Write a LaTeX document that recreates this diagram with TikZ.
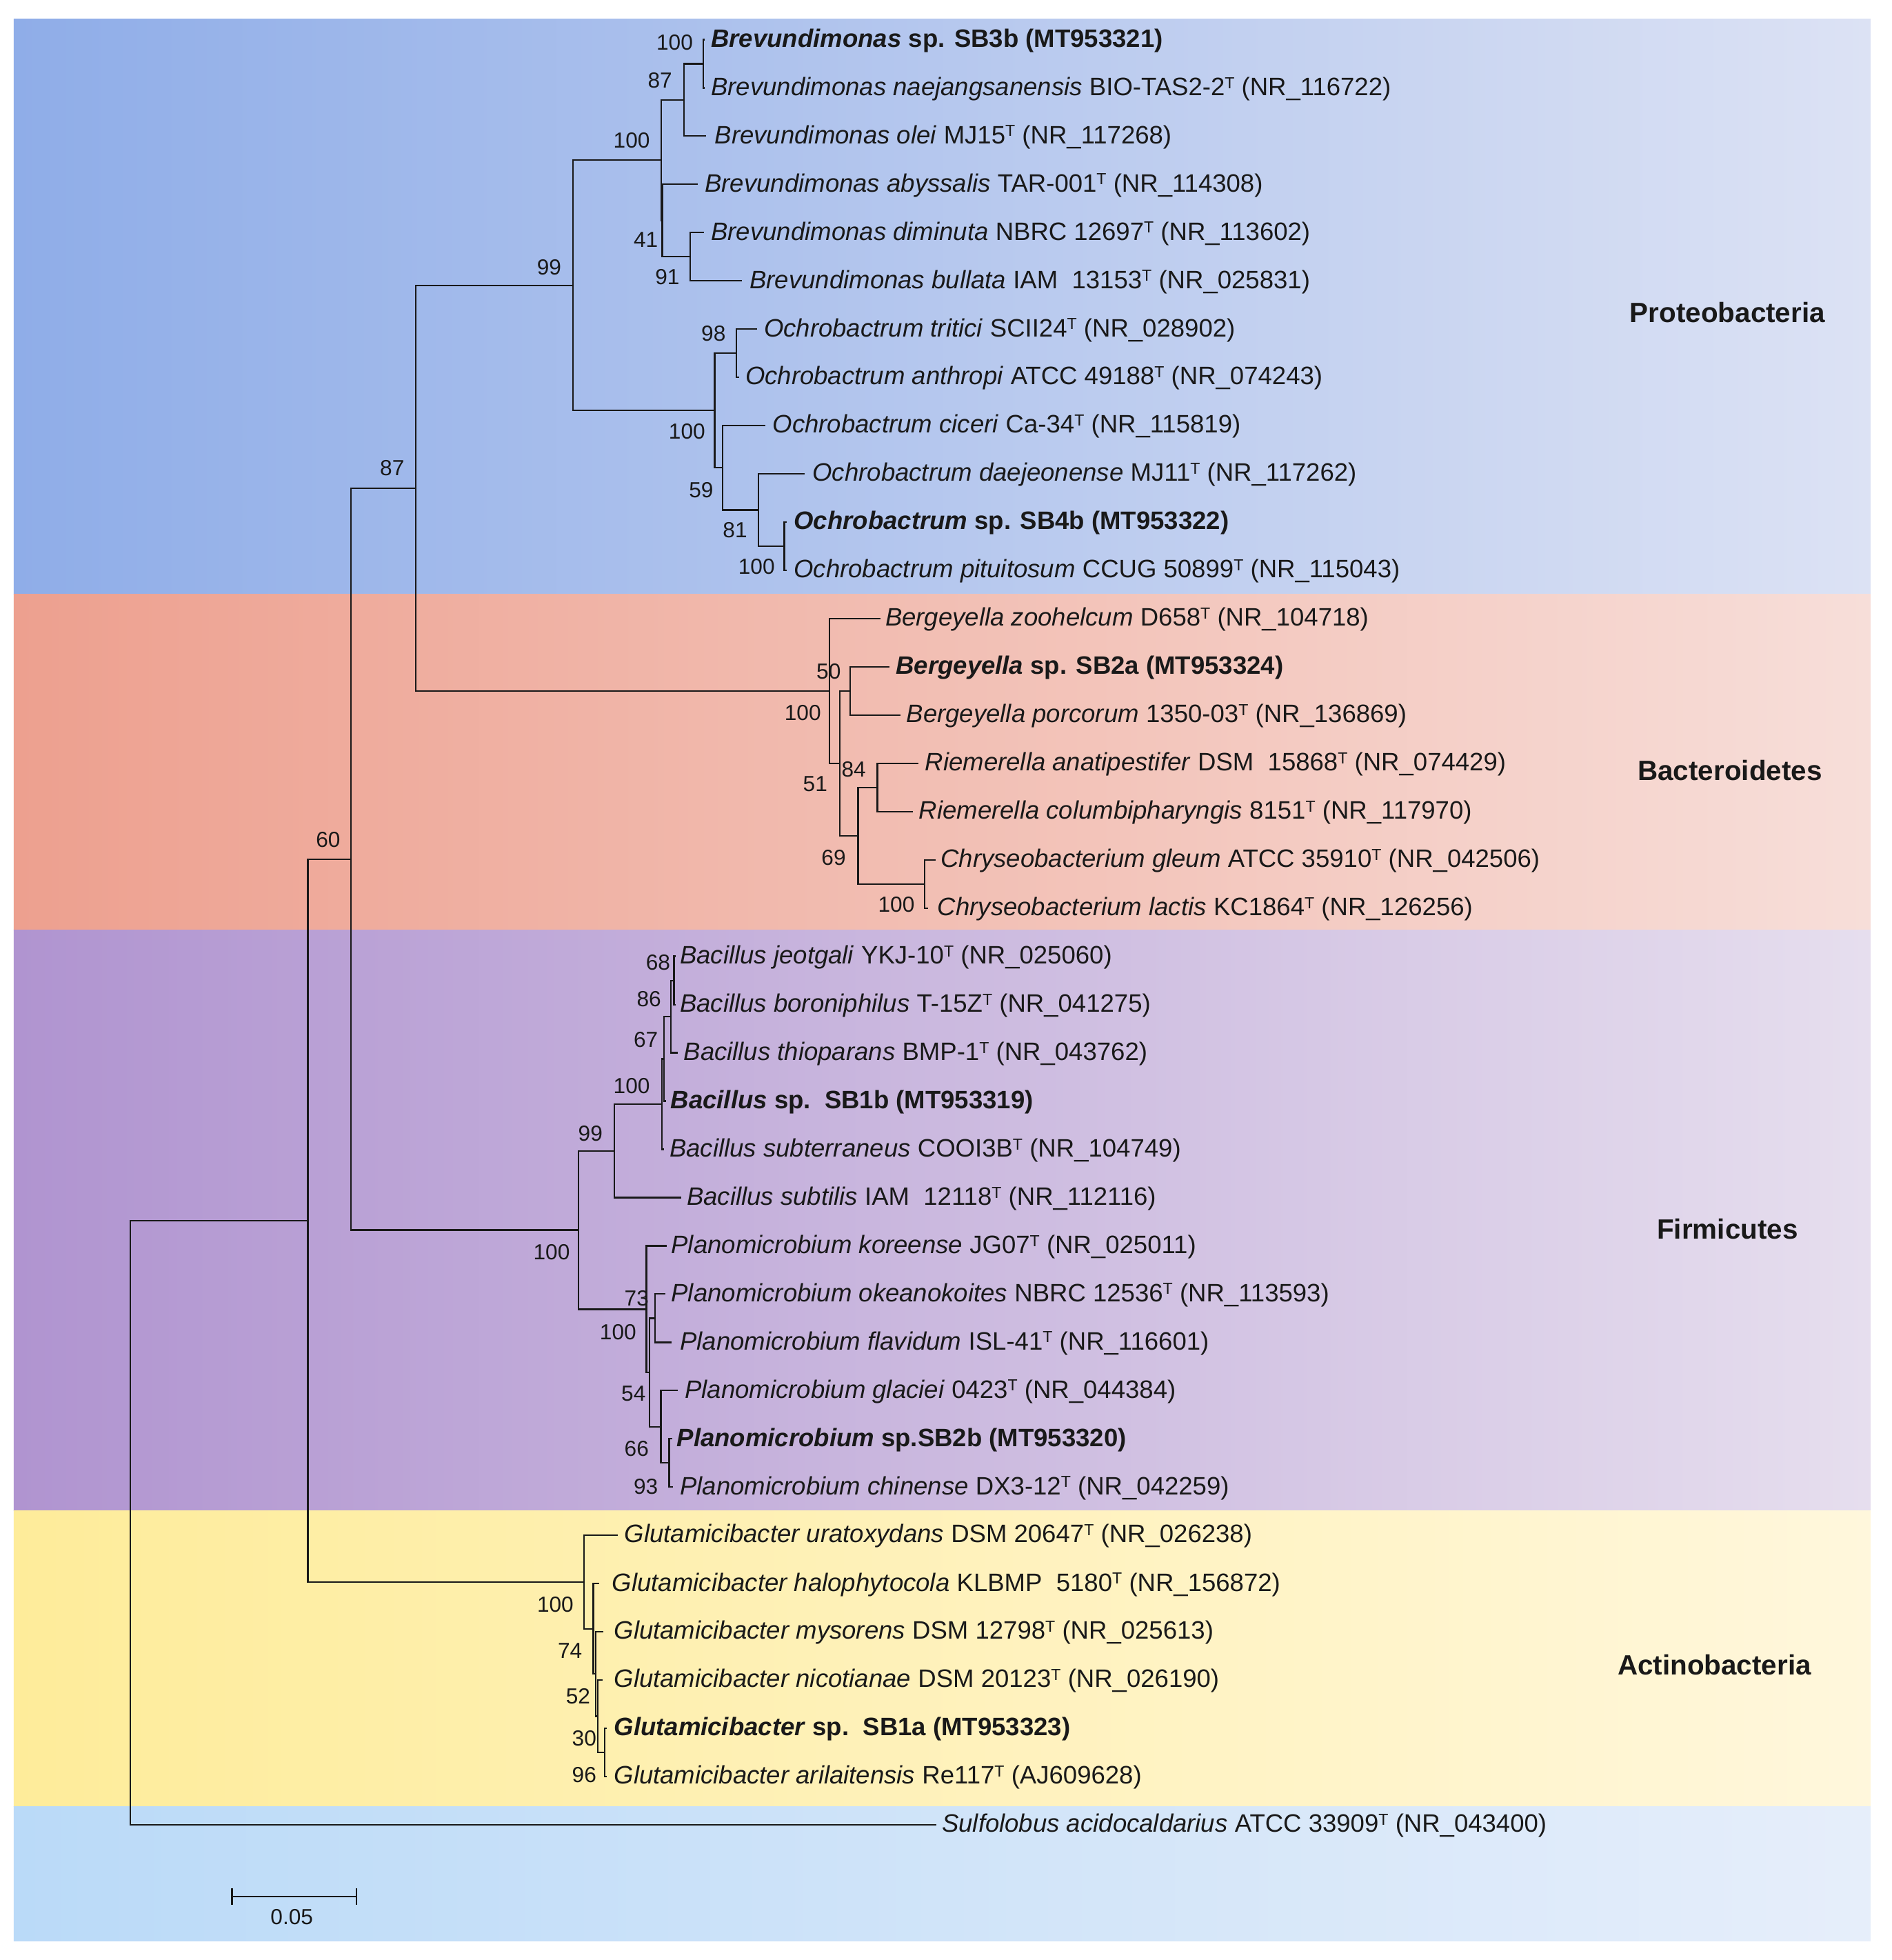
\documentclass[tikz,border=0pt]{standalone}
\usepackage{fontspec}
\setmainfont{Liberation Sans}
\newcommand{\ts}{\raisebox{0.28em}{\fontsize{6.6}{7}\selectfont T}}
\definecolor{proL}{RGB}{143,173,232}\definecolor{proR}{RGB}{220,226,244}
\definecolor{bacL}{RGB}{237,160,143}\definecolor{bacR}{RGB}{247,222,217}
\definecolor{firL}{RGB}{176,148,208}\definecolor{firR}{RGB}{230,222,238}
\definecolor{actL}{RGB}{254,236,154}\definecolor{actR}{RGB}{255,247,220}
\definecolor{outL}{RGB}{186,218,248}\definecolor{outR}{RGB}{230,238,250}
\definecolor{ink}{RGB}{25,25,25}
\begin{document}
\begin{tikzpicture}[x=0.01805cm,y=-0.01805cm,
  br/.style={line width=0.65pt,line cap=rect,draw=ink},
  tx/.style={anchor=base west,inner sep=0pt,text=ink,font=\fontsize{10.4}{12}\selectfont},
  bs/.style={inner sep=0pt,text=ink,font=\fontsize{9}{10}\selectfont},
  ph/.style={inner sep=0pt,text=ink,font=\fontsize{11.5}{13}\selectfont\bfseries}]
\useasboundingbox (0,0) rectangle (1520.2,1574.5);
\fill[white] (0,0) rectangle (1520.2,1574.5);
% background panels
\shade[left color=proL,right color=proR] (11,15) rectangle (1503,477.5);
\shade[left color=bacL,right color=bacR] (11,477.5) rectangle (1503,747.3);
\shade[left color=firL,right color=firR] (11,747.3) rectangle (1503,1213.7);
\shade[left color=actL,right color=actR] (11,1213.7) rectangle (1503,1451);
\shade[left color=outL,right color=outR] (11,1451) rectangle (1503,1559);
% phylum labels
\node[ph] (pro) at (1388,251) {Proteobacteria};
\node[ph] (bac) at (1390,619) {Bacteroidetes};
\node[ph] (fir) at (1388,987) {Firmicutes};
\node[ph] (act) at (1377.5,1337.5) {Actinobacteria};
% tip coordinates
\coordinate (t1) at (565.5,31.8);
\coordinate (t2) at (565.5,70.6);
\coordinate (t3) at (566.9,109.3);
\coordinate (t4) at (559.9,148.1);
\coordinate (t5) at (564.9,186.8);
\coordinate (t6) at (595.6,225.6);
\coordinate (t7) at (607.9,264.4);
\coordinate (t8) at (593.1,303.1);
\coordinate (t9) at (614.4,341.9);
\coordinate (t10) at (646,380.6);
\coordinate (t11) at (631.5,419.4);
\coordinate (t12) at (631.5,458.2);
\coordinate (t13) at (707,496.9);
\coordinate (t14) at (714.3,535.7);
\coordinate (t15) at (722.7,574.4);
\coordinate (t16) at (737.5,613.2);
\coordinate (t17) at (732.6,651.9);
\coordinate (t18) at (751.4,690.7);
\coordinate (t19) at (745,729.5);
\coordinate (t20) at (542.5,768.2);
\coordinate (t21) at (542.5,807.0);
\coordinate (t22) at (544,845.7);
\coordinate (t23) at (534.5,884.5);
\coordinate (t24) at (532.8,923.2);
\coordinate (t25) at (546.6,962.0);
\coordinate (t26) at (535.2,1000.8);
\coordinate (t27) at (534.2,1039.5);
\coordinate (t28) at (539.2,1078.3);
\coordinate (t29) at (544.1,1117.0);
\coordinate (t30) at (539.5,1155.8);
\coordinate (t31) at (540,1194.6);
\coordinate (t32) at (495.6,1233.3);
\coordinate (t33) at (480.8,1272.1);
\coordinate (t34) at (484.3,1310.8);
\coordinate (t35) at (483.3,1349.6);
\coordinate (t36) at (487,1388.4);
\coordinate (t37) at (486.7,1427.1);
\coordinate (t38) at (751.9,1465.9);
% internal nodes
\coordinate (E) at (565,51.2);
\coordinate (B) at (549.6,80.3);
\coordinate (D) at (554.5,206.2);
\coordinate (C) at (532.2,177.2);
\coordinate (A) at (531.3,128.7);
\coordinate (H) at (591.6,283.8);
\coordinate (K) at (630.2,438.8);
\coordinate (J) at (609.4,409.7);
\coordinate (I) at (580.7,375.8);
\coordinate (G) at (574.3,329.8);
\coordinate (F) at (460.5,229.3);
\coordinate (N) at (683.1,555.1);
\coordinate (Q) at (704.9,632.6);
\coordinate (R) at (743,710.1);
\coordinate (P) at (689.5,671.3);
\coordinate (O) at (674.7,613.2);
\coordinate (M) at (666.3,555.1);
\coordinate (L) at (334,392.2);
\coordinate (U1) at (541.5,787.6);
\coordinate (U2) at (539,816.7);
\coordinate (U3) at (533.5,850.6);
\coordinate (U4) at (531.8,886.9);
\coordinate (V) at (493.7,924.5);
\coordinate (Y) at (526.5,1058.9);
\coordinate (AA) at (537.7,1175.2);
\coordinate (Z) at (531,1146.1);
\coordinate (X) at (522,1102.5);
\coordinate (W) at (519.4,1051.7);
\coordinate (S) at (465,988.1);
\coordinate (N87) at (282,690.2);
\coordinate (AF) at (485.7,1407.75);
\coordinate (AE) at (480.3,1378.7);
\coordinate (AD) at (478.7,1344.7);
\coordinate (AC) at (476.8,1308.4);
\coordinate (AB) at (469.2,1270.9);
\coordinate (N60) at (247.3,980.6);
\coordinate (R0) at (104.9,1223.25);
% branches
\foreach \p/\c in {E/t1,E/t2,B/E,B/t3,A/B,A/C,C/t4,C/D,D/t5,D/t6,F/A,F/G,G/H,H/t7,H/t8,G/I,I/t9,I/J,J/t10,J/K,K/t11,K/t12,
  L/F,L/M,M/t13,M/O,O/N,N/t14,N/t15,O/P,P/Q,Q/t16,Q/t17,P/R,R/t18,R/t19,
  N87/L,N87/S,S/V,V/U4,U4/U3,U4/t24,U3/U2,U3/t23,U2/U1,U2/t22,U1/t20,U1/t21,V/t25,
  S/W,W/t26,W/X,X/Y,Y/t27,Y/t28,X/Z,Z/t29,Z/AA,AA/t30,AA/t31,
  N60/N87,N60/AB,AB/t32,AB/AC,AC/t33,AC/AD,AD/t34,AD/AE,AE/t35,AE/AF,AF/t36,AF/t37,
  R0/N60,R0/t38}
  \draw[br] (\p) |- (\c);
% taxon labels
\node[tx] (n1) at (571,37.8) {\textbf{\textit{Brevundimonas} sp. SB3b (MT953321)}};
\node[tx] (n2) at (571,76.6) {\textit{Brevundimonas naejangsanensis} BIO-TAS2-2\ts{} (NR\_116722)};
\node[tx] (n3) at (574,115.3) {\textit{Brevundimonas olei} MJ15\ts{}\ (NR\_117268)};
\node[tx] (n4) at (566,154.1) {\textit{Brevundimonas abyssalis} TAR-001\ts{} (NR\_114308)};
\node[tx] (n5) at (571,192.8) {\textit{Brevundimonas diminuta} NBRC 12697\ts{} (NR\_113602)};
\node[tx] (n6) at (602,231.6) {\textit{Brevundimonas bullata} IAM\ \ 13153\ts{} (NR\_025831)};
\node[tx] (n7) at (613.5,270.4) {\textit{Ochrobactrum tritici} SCII24\ts{}\ (NR\_028902)};
\node[tx] (n8) at (598.5,309.1) {\textit{Ochrobactrum anthropi} ATCC 49188\ts{} (NR\_074243)};
\node[tx] (n9) at (620.5,347.9) {\textit{Ochrobactrum ciceri} Ca-34\ts{} (NR\_115819)};
\node[tx] (n10) at (652.5,386.6) {\textit{Ochrobactrum daejeonense} MJ11\ts{}\ (NR\_117262)};
\node[tx] (n11) at (637.5,425.4) {\textbf{\textit{Ochrobactrum} sp. SB4b (MT953322)}};
\node[tx] (n12) at (637.5,464.2) {\textit{Ochrobactrum pituitosum} CCUG 50899\ts{} (NR\_115043)};
\node[tx] (n13) at (711,502.9) {\textit{Bergeyella zoohelcum} D658\ts{} (NR\_104718)};
\node[tx] (n14) at (719.5,541.7) {\textbf{\textit{Bergeyella} sp. SB2a (MT953324)}};
\node[tx] (n15) at (728,580.4) {\textit{Bergeyella porcorum} 1350-03\ts{} (NR\_136869)};
\node[tx] (n16) at (743,619.2) {\textit{Riemerella anatipestifer} DSM\ \ 15868\ts{} (NR\_074429)};
\node[tx] (n17) at (738,657.9) {\textit{Riemerella columbipharyngis} 8151\ts{} (NR\_117970)};
\node[tx] (n18) at (755.5,696.7) {\textit{Chryseobacterium gleum} ATCC 35910\ts{} (NR\_042506)};
\node[tx] (n19) at (753,735.5) {\textit{Chryseobacterium lactis} KC1864\ts{} (NR\_126256)};
\node[tx] (n20) at (546,774.2) {\textit{Bacillus jeotgali} YKJ-10\ts{} (NR\_025060)};
\node[tx] (n21) at (546,813.0) {\textit{Bacillus boroniphilus} T-15Z\ts{} (NR\_041275)};
\node[tx] (n22) at (549,851.7) {\textit{Bacillus thioparans} BMP-1\ts{} (NR\_043762)};
\node[tx] (n23) at (538.5,890.5) {\textbf{\textit{Bacillus} sp.\ \ SB1b (MT953319)}};
\node[tx] (n24) at (537.7,929.2) {\textit{Bacillus subterraneus} COOI3B\ts{} (NR\_104749)};
\node[tx] (n25) at (551.5,968.0) {\textit{Bacillus subtilis} IAM\ \ 12118\ts{} (NR\_112116)};
\node[tx] (n26) at (539,1006.8) {\textit{Planomicrobium koreense} JG07\ts{} (NR\_025011)};
\node[tx] (n27) at (539,1045.5) {\textit{Planomicrobium okeanokoites} NBRC 12536\ts{} (NR\_113593)};
\node[tx] (n28) at (546,1084.3) {\textit{Planomicrobium flavidum} ISL-41\ts{} (NR\_116601)};
\node[tx] (n29) at (550,1123.0) {\textit{Planomicrobium glaciei} 0423\ts{} (NR\_044384)};
\node[tx] (n30) at (543.5,1161.8) {\textbf{\textit{Planomicrobium} sp.SB2b (MT953320)}};
\node[tx] (n31) at (546,1200.6) {\textit{Planomicrobium chinense} DX3-12\ts{} (NR\_042259)};
\node[tx] (n32) at (501.5,1239.3) {\textit{Glutamicibacter uratoxydans} DSM 20647\ts{} (NR\_026238)};
\node[tx] (n33) at (491.5,1278.1) {\textit{Glutamicibacter halophytocola} KLBMP\ \ 5180\ts{} (NR\_156872)};
\node[tx] (n34) at (493,1316.8) {\textit{Glutamicibacter mysorens} DSM 12798\ts{} (NR\_025613)};
\node[tx] (n35) at (493,1355.6) {\textit{Glutamicibacter nicotianae} DSM 20123\ts{} (NR\_026190)};
\node[tx] (n36) at (493,1394.4) {\textbf{\textit{Glutamicibacter} sp.\ \ SB1a (MT953323)}};
\node[tx] (n37) at (493,1433.1) {\textit{Glutamicibacter arilaitensis} Re117\ts{} (AJ609628)};
\node[tx] (n38) at (756.5,1471.9) {\textit{Sulfolobus acidocaldarius} ATCC 33909\ts{} (NR\_043400)};
% bootstrap values
\node[bs] (b1) at (542.1,34.3) {100};
\node[bs] (b2) at (530.3,64.5) {87};
\node[bs] (b3) at (507.5,112.9) {100};
\node[bs] (b4) at (441.2,214.6) {99};
\node[bs] (b5) at (518.9,192.4) {41};
\node[bs] (b6) at (536.2,222.6) {91};
\node[bs] (b7) at (573.3,268) {98};
\node[bs] (b8) at (552,346.6) {100};
\node[bs] (b9) at (563.4,393.6) {59};
\node[bs] (b10) at (590.6,426) {81};
\node[bs] (b11) at (607.9,455.3) {100};
\node[bs] (b12) at (315.1,376.2) {87};
\node[bs] (b13) at (263.7,674.4) {60};
\node[bs] (b14) at (665.8,539.3) {50};
\node[bs] (b15) at (645,572.6) {100};
\node[bs] (b16) at (686,617.8) {84};
\node[bs] (b17) at (655,630) {51};
\node[bs] (b18) at (669.8,688.7) {69};
\node[bs] (b19) at (720.2,726.9) {100};
\node[bs] (b20) at (528.8,773) {68};
\node[bs] (b21) at (521.4,802.5) {86};
\node[bs] (b22) at (518.9,835) {67};
\node[bs] (b23) at (507.5,872.2) {100};
\node[bs] (b24) at (474.4,910.3) {99};
\node[bs] (b25) at (443.2,1005.6) {100};
\node[bs] (b26) at (511.5,1042.7) {73};
\node[bs] (b27) at (496.6,1070.1) {100};
\node[bs] (b28) at (509,1119.4) {54};
\node[bs] (b29) at (511.5,1163.8) {66};
\node[bs] (b30) at (518.9,1194) {93};
\node[bs] (b31) at (446.2,1288.9) {100};
\node[bs] (b32) at (458,1326) {74};
\node[bs] (b33) at (464.5,1362.7) {52};
\node[bs] (b34) at (469.4,1396.6) {30};
\node[bs] (b35) at (469.4,1426) {96};
% scale bar
\coordinate (sb1) at (186.5,1523.5);
\coordinate (sb2) at (286.6,1523.5);
\draw[br,line cap=butt] (sb1) -- (sb2);
\draw[br,line cap=butt] ([yshift=3.5pt]sb1) -- ([yshift=-3.5pt]sb1);
\draw[br,line cap=butt] ([yshift=3.5pt]sb2) -- ([yshift=-3.5pt]sb2);
\node[bs] (sbl) at (234.5,1540) {0.05};
\end{tikzpicture}
\end{document}
